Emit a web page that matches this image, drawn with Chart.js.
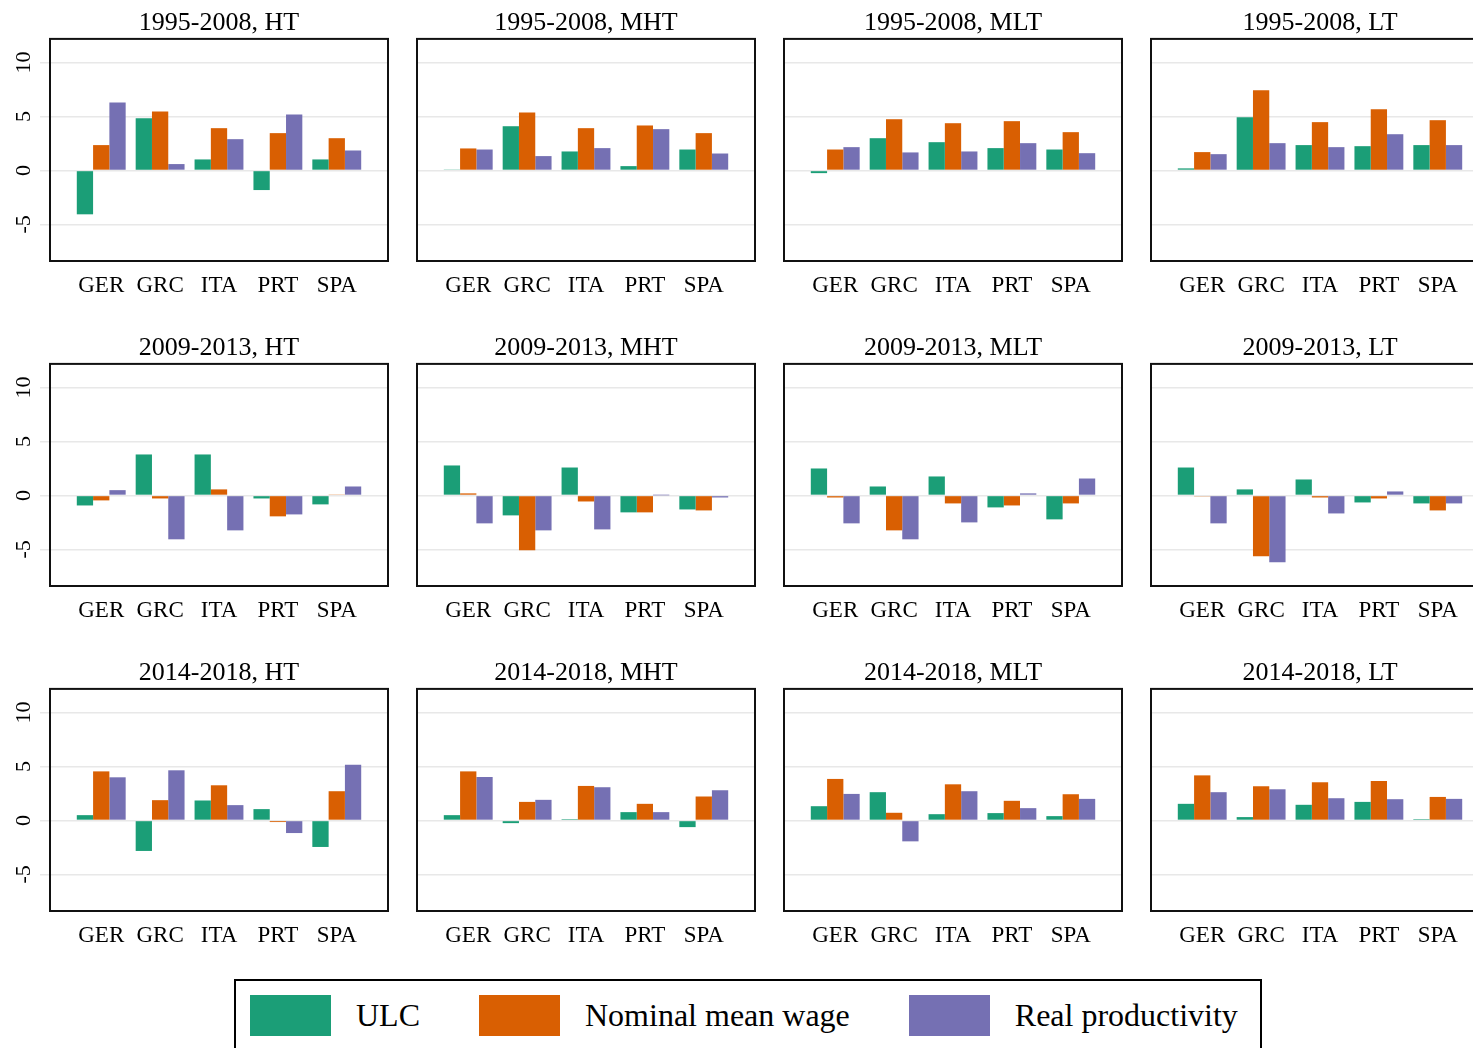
<!DOCTYPE html>
<html>
<head>
<meta charset="utf-8">
<title>ULC, nominal mean wage and real productivity</title>
<script src="https://cdn.jsdelivr.net/npm/chart.js@4.4.1/dist/chart.umd.min.js"></script>
<style>
  html, body { margin: 0; padding: 0; background: #fff; overflow: hidden; }
  #page { position: relative; width: 1473px; height: 1048px; overflow: hidden; background: #fff; }
  #page canvas { position: absolute; }
  #legend {
    position: absolute; left: 234px; top: 979px; width: 1028px; height: 100px;
    box-sizing: border-box; border: 2px solid #000;
    display: flex; align-items: flex-start; padding: 14px 0 0 14px;
    font-family: "Liberation Serif", "DejaVu Serif", serif; font-size: 32px; color: #000;
  }
  .item { display: flex; align-items: center; flex-shrink: 0; white-space: nowrap; margin-right: 59px; }
  .swatch { display: block; flex-shrink: 0; width: 81px; height: 41px; margin-right: 25px; }
</style>
</head>
<body>
<div id="page"><div id="legend"></div></div>
<script>
const countries = ["GER", "GRC", "ITA", "PRT", "SPA"]
const periods = ["1995-2008", "2009-2013", "2014-2018"]
const sectors = ["HT", "MHT", "MLT", "LT"]
const seriesNames = ["ULC", "Nominal mean wage", "Real productivity"]
const seriesColors = ["#1b9e77", "#d95f02", "#7570b3"]
const yTicks = [-5, 0, 5, 10]

// one row per sector (HT, MHT, MLT, LT), one value per country
const ulc9508 = [
  [-4.07, 4.85, 1.02, -1.82, 1.02],
  [0.09, 4.10, 1.76, 0.40, 1.94],
  [-0.25, 2.99, 2.62, 2.07, 1.94],
  [0.19, 4.94, 2.35, 2.25, 2.35]
]
const wage9508 = [
  [2.35, 5.46, 3.92, 3.46, 2.99],
  [2.04, 5.37, 3.92, 4.17, 3.46],
  [1.94, 4.75, 4.38, 4.57, 3.55],
  [1.70, 7.44, 4.48, 5.68, 4.66]
]
const prod9508 = [
  [6.30, 0.59, 2.90, 5.19, 1.85],
  [1.94, 1.33, 2.07, 3.83, 1.57],
  [2.16, 1.67, 1.76, 2.53, 1.60],
  [1.51, 2.53, 2.16, 3.36, 2.35]
]

const ulc0913 = [
  [-0.93, 3.80, 3.80, -0.28, -0.83],
  [2.78, -1.85, 2.59, -1.57, -1.30],
  [2.50, 0.83, 1.76, -1.11, -2.22],
  [2.59, 0.56, 1.48, -0.65, -0.74]
]
const wage0913 = [
  [-0.46, -0.28, 0.56, -1.94, 0.09],
  [0.19, -5.09, -0.56, -1.57, -1.39],
  [-0.19, -3.24, -0.74, -0.93, -0.74],
  [-0.09, -5.65, -0.19, -0.28, -1.39]
]
const prod0913 = [
  [0.49, -4.07, -3.24, -1.76, 0.83],
  [-2.59, -3.24, -3.15, 0.01, -0.19],
  [-2.59, -4.07, -2.50, 0.19, 1.57],
  [-2.59, -6.20, -1.67, 0.37, -0.74]
]

const ulc1418 = [
  [0.49, -2.83, 1.85, 1.05, -2.46],
  [0.49, -0.25, 0.12, 0.77, -0.62],
  [1.32, 2.62, 0.58, 0.68, 0.40],
  [1.54, 0.31, 1.45, 1.72, 0.12]
]
const wage1418 = [
  [4.55, 1.88, 3.26, -0.15, 2.71],
  [4.55, 1.72, 3.20, 1.54, 2.22],
  [3.85, 0.71, 3.35, 1.82, 2.43],
  [4.18, 3.17, 3.54, 3.66, 2.18]
]
const prod1418 = [
  [4.00, 4.65, 1.42, -1.17, 5.17],
  [4.03, 1.91, 3.08, 0.77, 2.80],
  [2.46, -1.94, 2.71, 1.14, 2.00],
  [2.62, 2.89, 2.06, 1.97, 2.00]
]

const ulc = [ulc9508, ulc0913, ulc1418]
const wage = [wage9508, wage0913, wage1418]
const prod = [prod9508, prod0913, prod1418]
const series = [ulc, wage, prod]

// panel layout: left / top of each plot area on the page
const colLeft = [50, 417, 784, 1151]
const rowTop = [39, 364, 689]
const plotW = 338
const plotH = 222
const axisW = 50
const titleH = 40
const xAxisH = 50

Chart.defaults.font.family = '"Liberation Serif", "DejaVu Serif", serif'
Chart.defaults.color = "#000"

const boxBorder = {
  id: "boxBorder",
  afterDraw(chart) {
    const {ctx, chartArea: a} = chart
    ctx.save()
    ctx.strokeStyle = "#111"
    ctx.lineWidth = 2
    ctx.strokeRect(a.left, a.top, a.right - a.left, a.bottom - a.top)
    ctx.restore()
  }
}

const page = document.querySelector("#page")

periods.forEach((period, r) => {
  sectors.forEach((sector, j) => {
    const canvas = document.createElement("canvas")
    canvas.width = axisW + plotW + axisW
    canvas.height = titleH + plotH + xAxisH
    canvas.style.left = (colLeft[j] - axisW) + "px"
    canvas.style.top = (rowTop[r] - titleH) + "px"
    page.appendChild(canvas)

    new Chart(canvas, {
      type: "bar",
      data: {
        datasets: seriesNames.map((name, s) => ({
          label: name,
          data: countries.map((c, k) => ({x: k + 1, y: series[s][r][j][k]})),
          backgroundColor: seriesColors[s],
          borderWidth: 0,
          categoryPercentage: 0.83,
          barPercentage: 1
        }))
      },
      options: {
        responsive: false,
        animation: false,
        devicePixelRatio: 1,
        layout: {padding: {left: 0, right: axisW, top: 0, bottom: 0}},
        plugins: {
          legend: {display: false},
          tooltip: {enabled: false},
          title: {
            display: true,
            text: period + ", " + sector,
            fullSize: false,
            color: "#000",
            font: {size: 26, weight: "normal", lineHeight: 1.15},
            padding: {top: 9, bottom: 1}
          }
        },
        scales: {
          x: {
            type: "linear",
            min: 0.13,
            max: 5.87,
            offset: false,
            afterBuildTicks: scale => { scale.ticks = countries.map((c, k) => ({value: k + 1})) },
            afterFit: scale => { scale.height = xAxisH },
            ticks: {
              callback: v => countries[v - 1],
              autoSkip: false,
              maxRotation: 0,
              padding: 3,
              color: "#000",
              font: {size: 23}
            },
            grid: {display: false},
            border: {display: false}
          },
          y: {
            min: -8.4,
            max: 12.2,
            afterBuildTicks: scale => { scale.ticks = yTicks.map(v => ({value: v})) },
            afterFit: scale => { scale.width = axisW },
            ticks: {
              display: j === 0,
              minRotation: 90,
              maxRotation: 90,
              crossAlign: "center",
              padding: 4.5,
              color: "#000",
              font: {size: 22}
            },
            grid: {color: "#e8e8e8", lineWidth: 1.5, drawTicks: j === 0, tickLength: 10},
            border: {display: false}
          }
        }
      },
      plugins: [boxBorder]
    })
  })
})

const legend = document.querySelector("#legend")
seriesNames.forEach((name, s) => {
  const item = document.createElement("div")
  item.className = "item"
  const swatch = document.createElement("span")
  swatch.className = "swatch"
  swatch.style.background = seriesColors[s]
  const label = document.createElement("span")
  label.textContent = name
  item.appendChild(swatch)
  item.appendChild(label)
  legend.appendChild(item)
})
</script>
</body>
</html>
